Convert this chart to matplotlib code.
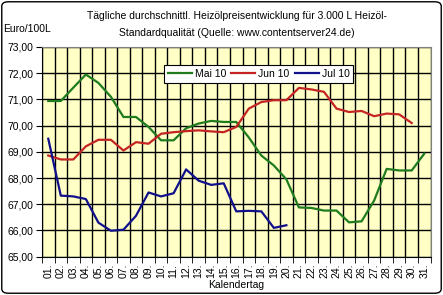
import numpy as np
import matplotlib.pyplot as plt
from matplotlib.patches import FancyBboxPatch

plt.rcParams['font.family'] = ['Liberation Sans', 'DejaVu Sans']

# Daten (Euro/100L)
tage = np.arange(1, 32)
tag_labels = [f'{d:02d}.' for d in tage]

mai_10 = [70.94, 70.94, 71.45, 71.95, 71.63, 71.10, 70.33, 70.33, 69.95, 69.44,
          69.44, 69.90, 70.08, 70.18, 70.14, 70.14, 69.55, 68.86, 68.48, 67.95,
          66.88, 66.86, 66.76, 66.76, 66.31, 66.35, 67.14, 68.35, 68.29, 68.29,
          68.93]
jun_10 = [68.86, 68.71, 68.71, 69.21, 69.46, 69.46, 69.05, 69.37, 69.31, 69.69,
          69.75, 69.79, 69.82, 69.78, 69.75, 69.95, 70.65, 70.90, 70.97, 70.97,
          71.44, 71.38, 71.29, 70.65, 70.52, 70.56, 70.36, 70.46, 70.43, 70.10]
jul_10 = [69.50, 67.33, 67.30, 67.20, 66.30, 65.99, 66.03, 66.56, 67.45, 67.30,
          67.42, 68.33, 67.90, 67.74, 67.80, 66.73, 66.75, 66.73, 66.10, 66.20]

fs = 7.5

fig = plt.figure(figsize=(4.43, 2.95), dpi=100)
ax = fig.add_axes([0.0948, 0.1298, 0.8770, 0.7109])
ax.set_facecolor('#FFFFC6')

ax.plot(tage[:len(mai_10)], mai_10, color='#1E7B1E', lw=1.6, label='Mai 10')
ax.plot(tage[:len(jun_10)], jun_10, color='#C42424', lw=1.6, label='Jun 10')
ax.plot(tage[:len(jul_10)], jul_10, color='#10108C', lw=1.6, label='Jul 10')

ax.set_xlim(0.5, 31.5)
ax.set_ylim(65, 73)
ax.set_yticks(np.arange(65, 74, 1))
ax.set_yticklabels([f'{v:.2f}'.replace('.', ',') for v in np.arange(65, 74, 1)], fontsize=fs)
ax.set_xticks(tage)
ax.set_xticklabels(tag_labels, rotation=90, fontsize=fs)
ax.set_xticks(np.arange(0.5, 32, 1), minor=True)
ax.tick_params(axis='x', which='major', length=0, pad=5)
ax.tick_params(axis='x', which='minor', length=4, direction='out')
ax.tick_params(axis='y', length=4, direction='out', pad=2)
ax.grid(True, which='minor', axis='x', color='black', lw=1)
ax.grid(True, which='major', axis='y', color='black', lw=1)
ax.set_axisbelow(True)
for s in ['top', 'right']:
    ax.spines[s].set_color('#808080')
ax.set_xlabel('Kalendertag', fontsize=fs, labelpad=1)

leg = ax.legend(loc='upper right', bbox_to_anchor=(0.815, 0.937), ncol=3, fontsize=fs,
                frameon=True, fancybox=False, edgecolor='black', framealpha=1,
                handlelength=2.3, handletextpad=0.3, columnspacing=0.5, borderpad=0.35)
leg.get_frame().set_linewidth(0.8)

fig.text(0.535, 0.935, 'Tägliche durchschnittl. Heizölpreisentwicklung für 3.000 L Heizöl-',
         ha='center', fontsize=fs)
fig.text(0.535, 0.878, 'Standardqualität (Quelle: www.contentserver24.de)', ha='center', fontsize=fs)
fig.text(0.008, 0.893, 'Euro/100L', ha='left', fontsize=fs)

fig.patches.append(FancyBboxPatch((0.004, 0.006), 0.992, 0.988, boxstyle='round,pad=0,rounding_size=0.015',
                                  transform=fig.transFigure, fill=False, edgecolor='black', lw=1))

fig.savefig('out.png', dpi=100)
